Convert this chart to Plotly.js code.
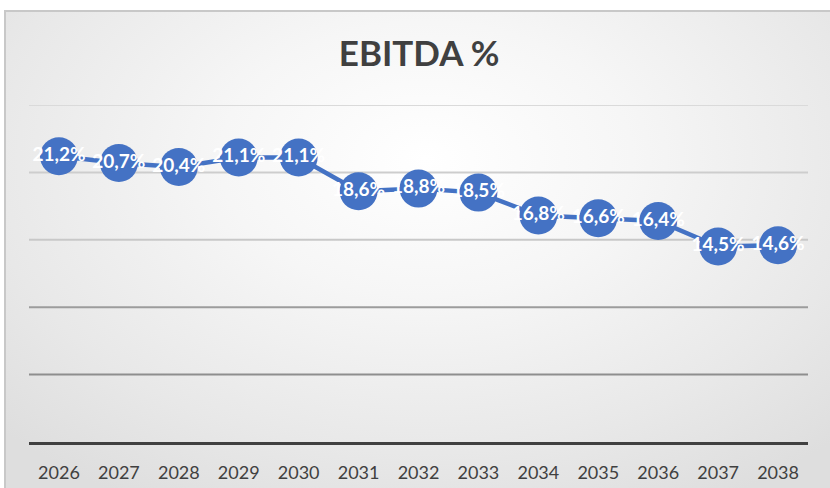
<!DOCTYPE html>
<html>
<head>
<meta charset="utf-8">
<script src="https://cdn.plot.ly/plotly-3.0.1.min.js"></script>
<style>
  html, body { margin: 0; padding: 0; background: #ffffff; overflow: hidden; }
  #frame {
    position: absolute; left: 4px; top: 10px; width: 840px; height: 490px;
    border-left: 2px solid #c8c8c8; border-top: 2px solid #c8c8c8;
    background: radial-gradient(ellipse 70% 80% at 50% 30%, #ffffff 0%, #f6f6f6 35%, #e8e8e8 75%, #dedede 100%);
  }
  #chart { position: absolute; left: 0; top: 0; width: 830px; height: 488px; }
</style>
</head>
<body>
<div id="frame"></div>
<div id="chart"></div>
<script>
const years = ['2026','2027','2028','2029','2030','2031','2032','2033','2034','2035','2036','2037','2038'];
const ebitdaPct = [21.2, 20.7, 20.4, 21.1, 21.1, 18.6, 18.8, 18.5, 16.8, 16.6, 16.4, 14.5, 14.6];
const gridVals = [5, 10, 15, 20, 25];
const gridColors = ['#8e8e8e', '#9c9c9c', '#c8c8c8', '#cdcdcd', '#dadada'];

const labels = ebitdaPct.map(v => v.toFixed(1).replace('.', ',') + '%');

const trace = {
  x: years,
  y: ebitdaPct,
  type: 'scatter',
  mode: 'lines+markers+text',
  line: { color: '#4472C4', width: 4.5 },
  marker: { color: '#4472C4', size: 38, line: { width: 0 } },
  text: labels,
  textposition: 'middle center',
  textfont: { family: 'Lato, "Open Sans", sans-serif', size: 19, color: '#ffffff', weight: 'bold' },
  hoverinfo: 'skip',
  cliponaxis: false
};

const shapes = gridVals.map((v, i) => ({
  type: 'line', xref: 'paper', yref: 'y', x0: 0, x1: 1, y0: v, y1: v,
  line: { color: gridColors[i], width: 2 }, layer: 'below'
}));

const layout = {
  width: 830, height: 488,
  margin: { l: 29, r: 22, t: 105, b: 45.5 },
  paper_bgcolor: 'rgba(0,0,0,0)',
  plot_bgcolor: 'rgba(0,0,0,0)',
  showlegend: false,
  title: {
    text: '<b>EBITDA %</b>',
    font: { family: 'Lato, "Open Sans", sans-serif', size: 35, color: '#404040' },
    x: 0.505, xanchor: 'center', y: 0.89, yanchor: 'middle'
  },
  xaxis: {
    type: 'category',
    range: [-0.5, 12.5],
    showgrid: false, zeroline: false,
    showline: true, linecolor: '#404040', linewidth: 3,
    ticks: '', ticklabelstandoff: 12,
    tickfont: { family: 'Lato, "Open Sans", sans-serif', size: 18, color: '#404040' },
    fixedrange: true
  },
  yaxis: {
    range: [0, 25],
    showgrid: false, zeroline: false, showline: false,
    showticklabels: false, ticks: '',
    fixedrange: true
  },
  shapes: shapes
};

Plotly.newPlot('chart', [trace], layout, { displayModeBar: false, staticPlot: true });
</script>
</body>
</html>
